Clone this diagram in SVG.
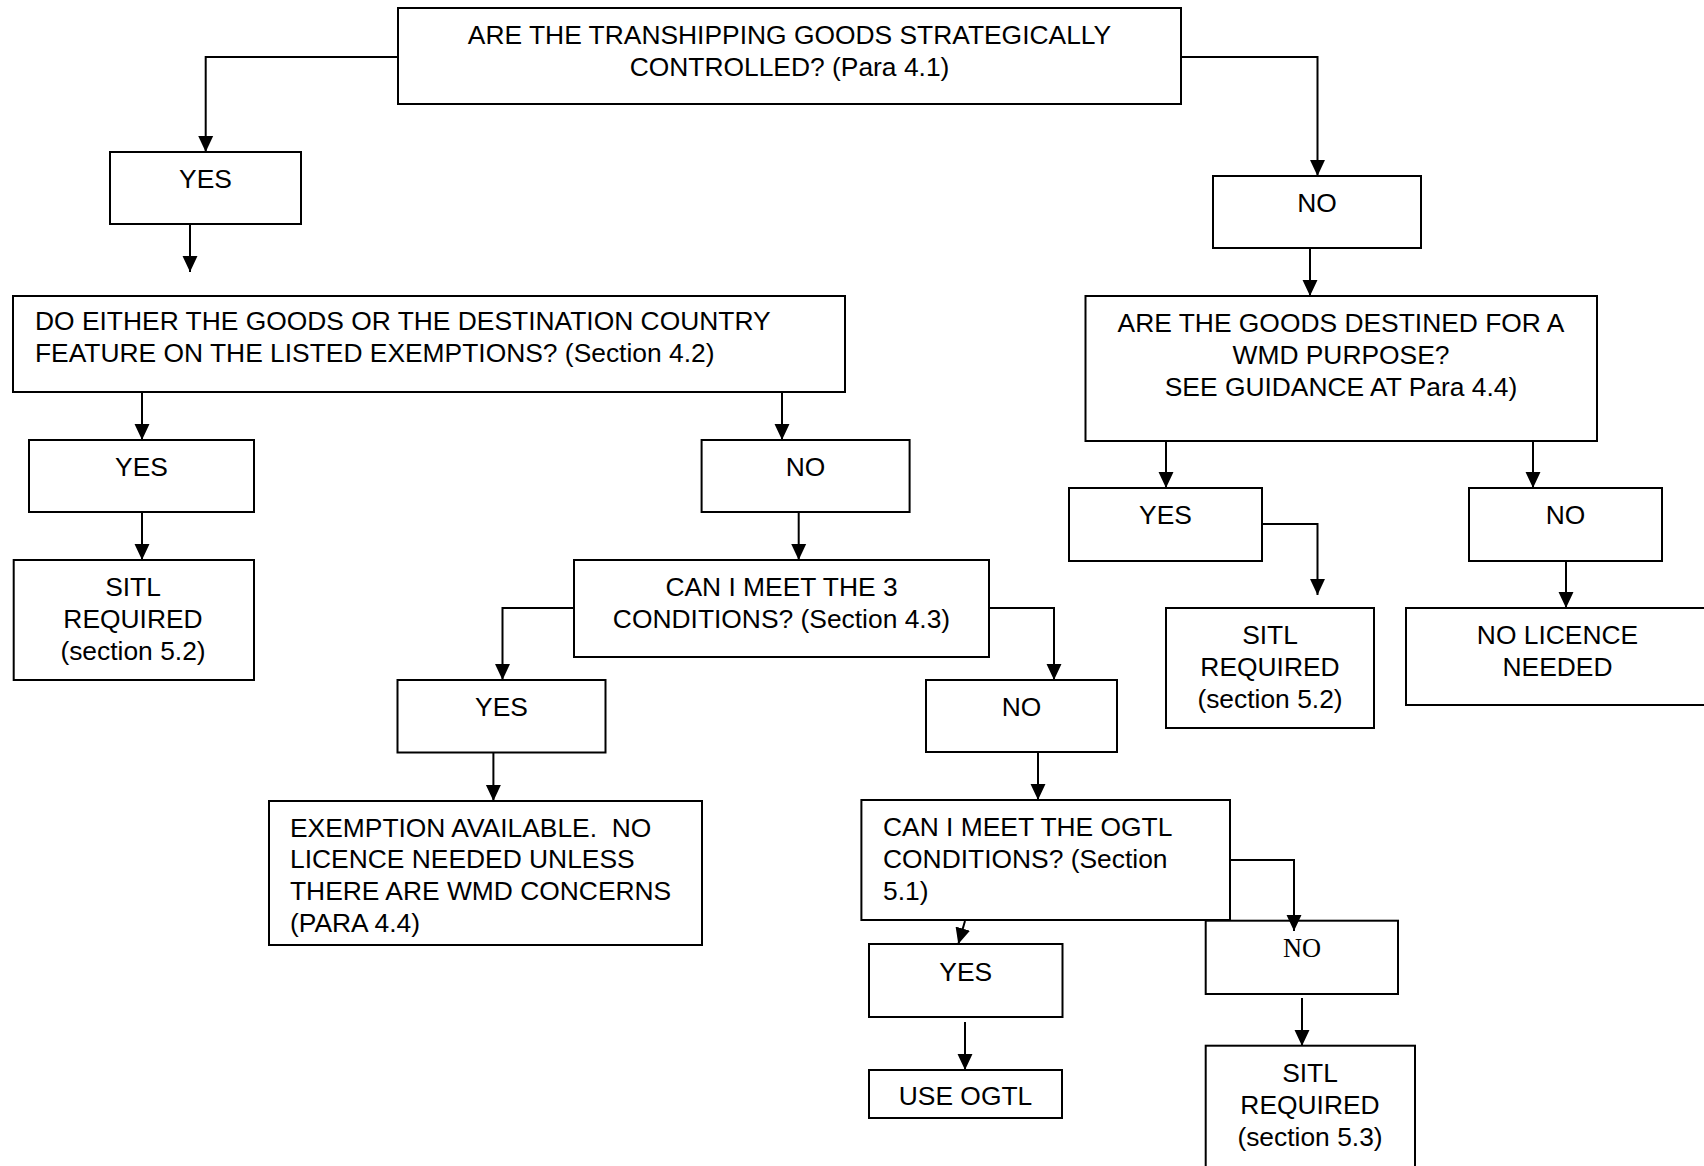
<svg xmlns="http://www.w3.org/2000/svg" width="1704" height="1166" viewBox="0 0 1704 1166">
<defs>
<style>
.box{fill:#fff;stroke:#000;stroke-width:2}
.t{font-family:"Liberation Sans",Arial,sans-serif;font-size:26.4px;fill:#000}
.c{text-anchor:middle}
.s{font-family:"Liberation Serif","Times New Roman",serif;font-size:26.4px;fill:#000;text-anchor:middle}
.ln{fill:none;stroke:#000;stroke-width:2;marker-end:url(#ah)}
</style>
<marker id="ah" markerUnits="userSpaceOnUse" markerWidth="16" markerHeight="16" viewBox="0 0 15 14" refX="15" refY="7" orient="auto">
<path d="M0,0 L15,7 L0,14 Z" fill="#000"/>
</marker>
</defs>
<rect width="1704" height="1166" fill="#fff"/>

<g id="connectors">
<path class="ln" d="M398,57 H205.7 V152"/>
<path class="ln" d="M1181,57 H1317.5 V176"/>
<path class="ln" d="M190,224 V272"/>
<path class="ln" d="M1310,248 V296"/>
<path class="ln" d="M142,392 V440"/>
<path class="ln" d="M782,392 V440"/>
<path class="ln" d="M142,512 V560"/>
<path class="ln" d="M798.7,512 V560"/>
<path class="ln" d="M574,608 H502.5 V680"/>
<path class="ln" d="M989,608 H1054 V680"/>
<path class="ln" d="M1166,441 V488"/>
<path class="ln" d="M1533,441 V488"/>
<path class="ln" d="M1262,524 H1317.5 V595"/>
<path class="ln" d="M1566,561 V608"/>
<path class="ln" d="M493.4,753 V801"/>
<path class="ln" d="M1038,752 V800"/>
<path class="ln" d="M1302,998 V1046"/>
<path class="ln" d="M965,1022 V1070"/>
</g>

<g id="n-top">
<rect class="box" x="398" y="8" width="783" height="96"/>
<text class="t c" x="789.5" y="44">ARE THE TRANSHIPPING GOODS STRATEGICALLY</text>
<text class="t c" x="789.5" y="76">CONTROLLED? (Para 4.1)</text>
</g>
<g id="n-yes1">
<rect class="box" x="110" y="152" width="191" height="72"/>
<text class="t c" x="205.5" y="188">YES</text>
</g>
<g id="n-no1">
<rect class="box" x="1213" y="176" width="208" height="72"/>
<text class="t c" x="1317" y="212">NO</text>
</g>
<g id="n-q2">
<rect class="box" x="13" y="296" width="832" height="96"/>
<text class="t" x="35" y="330">DO EITHER THE GOODS OR THE DESTINATION COUNTRY</text>
<text class="t" x="35" y="362">FEATURE ON THE LISTED EXEMPTIONS? (Section 4.2)</text>
</g>
<g id="n-q3">
<rect class="box" x="1085.5" y="296" width="511.5" height="145"/>
<text class="t c" x="1341" y="332">ARE THE GOODS DESTINED FOR A</text>
<text class="t c" x="1341" y="364">WMD PURPOSE?</text>
<text class="t c" x="1341" y="396">SEE GUIDANCE AT Para 4.4)</text>
</g>
<g id="n-yes2">
<rect class="box" x="29" y="440" width="225" height="72"/>
<text class="t c" x="141.5" y="476">YES</text>
</g>
<g id="n-no2">
<rect class="box" x="701.6" y="440" width="208" height="72"/>
<text class="t c" x="805.6" y="476">NO</text>
</g>
<g id="n-sitl1">
<rect class="box" x="13.7" y="560" width="240.3" height="120"/>
<text class="t c" x="133" y="596">SITL</text>
<text class="t c" x="133" y="628">REQUIRED</text>
<text class="t c" x="133" y="660">(section 5.2)</text>
</g>
<g id="n-q4">
<rect class="box" x="574" y="560" width="415" height="97"/>
<text class="t c" x="781.5" y="596">CAN I MEET THE 3</text>
<text class="t c" x="781.5" y="628">CONDITIONS? (Section 4.3)</text>
</g>
<g id="n-yes3">
<rect class="box" x="1069" y="488" width="193" height="73"/>
<text class="t c" x="1165.5" y="524">YES</text>
</g>
<g id="n-no3">
<rect class="box" x="1469" y="488" width="193" height="73"/>
<text class="t c" x="1565.5" y="524">NO</text>
</g>
<g id="n-sitl2">
<rect class="box" x="1166" y="608" width="208" height="120"/>
<text class="t c" x="1270" y="644">SITL</text>
<text class="t c" x="1270" y="676">REQUIRED</text>
<text class="t c" x="1270" y="708">(section 5.2)</text>
</g>
<g id="n-nolicence">
<rect class="box" x="1406" y="608" width="303" height="97"/>
<text class="t c" x="1557.5" y="644">NO LICENCE</text>
<text class="t c" x="1557.5" y="676">NEEDED</text>
</g>
<g id="n-yes4">
<rect class="box" x="397.5" y="680" width="208" height="72.5"/>
<text class="t c" x="501.5" y="716">YES</text>
</g>
<g id="n-no4">
<rect class="box" x="926" y="680" width="191" height="72"/>
<text class="t c" x="1021.5" y="716">NO</text>
</g>
<g id="n-exemption">
<rect class="box" x="269" y="801" width="433" height="144"/>
<text class="t" x="290" y="836.5" xml:space="preserve">EXEMPTION AVAILABLE.  NO</text>
<text class="t" x="290" y="868">LICENCE NEEDED UNLESS</text>
<text class="t" x="290" y="900">THERE ARE WMD CONCERNS</text>
<text class="t" x="290" y="932">(PARA 4.4)</text>
</g>
<g id="n-q5">
<rect class="box" x="861.4" y="800" width="368.6" height="120"/>
<text class="t" x="883" y="836">CAN I MEET THE OGTL</text>
<text class="t" x="883" y="868">CONDITIONS? (Section</text>
<text class="t" x="883" y="900">5.1)</text>
</g>
<g id="n-yes5">
<rect class="box" x="869" y="944" width="193.5" height="73"/>
<text class="t c" x="965.7" y="980.5">YES</text>
</g>
<g id="n-no5">
<rect class="box" x="1205.7" y="920.7" width="192.3" height="73.3"/>
<text class="s" x="1302" y="957">NO</text>
</g>
<g id="n-useogtl">
<rect class="box" x="869" y="1070" width="193" height="48"/>
<text class="t c" x="965.5" y="1105">USE OGTL</text>
</g>
<g id="n-sitl3">
<rect class="box" x="1205.7" y="1045.7" width="209.3" height="130"/>
<text class="t c" x="1310" y="1081.5">SITL</text>
<text class="t c" x="1310" y="1113.5">REQUIRED</text>
<text class="t c" x="1310" y="1145.5">(section 5.3)</text>
</g>

<g id="connectors-over">
<path class="ln" d="M965,921 L958.3,944"/>
<path class="ln" d="M1230,860 H1294 V931"/>
</g>
</svg>
